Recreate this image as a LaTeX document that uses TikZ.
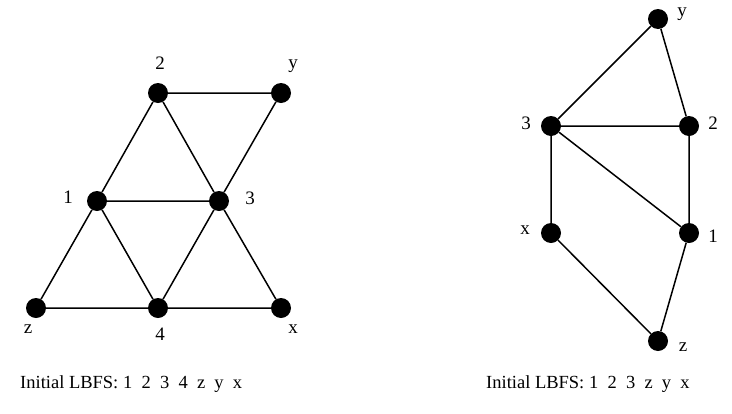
\documentclass[tikz,border=0pt]{standalone}
\usepackage{fontspec}
\setmainfont{Liberation Serif}
\begin{document}
\begin{tikzpicture}[x=1pt,y=-1pt,
  vtx/.style={circle,fill=black,minimum size=20pt,inner sep=0pt},
  lbl/.style={inner sep=0pt,font=\fontsize{19}{22}\selectfont},
  captxt/.style={inner sep=0pt,anchor=base west,font=\fontsize{18.5}{22}\selectfont},
  edge/.style={line width=1.5pt}]
\useasboundingbox (0,0) rectangle (732,413);
% left graph
\node[vtx] (L2) at (158,93) {};
\node[vtx] (Ly) at (281,93) {};
\node[vtx] (L1) at (97,201) {};
\node[vtx] (L3) at (219,201) {};
\node[vtx] (Lz) at (36,308) {};
\node[vtx] (L4) at (158,308) {};
\node[vtx] (Lx) at (281,308) {};
\draw[edge] (L2)--(Ly) (L2)--(L1) (L2)--(L3) (Ly)--(L3) (L1)--(L3)
  (L1)--(Lz) (L1)--(L4) (L3)--(L4) (L3)--(Lx) (Lz)--(L4) (L4)--(Lx);
\node[lbl] (tL2) at (160,63) {2};
\node[lbl] (tLy) at (293,66) {y};
\node[lbl] (tL1) at (68,197) {1};
\node[lbl] (tL3) at (250,198) {3};
\node[lbl] (tLz) at (28,329) {z};
\node[lbl] (tL4) at (160,334) {4};
\node[lbl] (tLx) at (293,329) {x};
% right graph
\node[vtx] (Ry) at (658,19) {};
\node[vtx] (R3) at (551,126) {};
\node[vtx] (R2) at (689,126) {};
\node[vtx] (Rx) at (551,233) {};
\node[vtx] (R1) at (689,233) {};
\node[vtx] (Rz) at (658,341) {};
\draw[edge] (Ry)--(R3) (Ry)--(R2) (R3)--(R2) (R3)--(R1) (R3)--(Rx)
  (R2)--(R1) (Rx)--(Rz) (R1)--(Rz);
\node[lbl] (tRy) at (682,14) {y};
\node[lbl] (tR3) at (526,123) {3};
\node[lbl] (tR2) at (713,123) {2};
\node[lbl] (tRx) at (525,230) {x};
\node[lbl] (tR1) at (713,236) {1};
\node[lbl] (tRz) at (683,347) {z};
% captions
\node[captxt] (c1) at (20,388) {Initial LBFS: 1\ \ 2\ \ 3\ \ 4\ \ z\ \ y\ \ x};
\node[captxt] (c2) at (486,388) {Initial LBFS: 1\ \ 2\ \ 3\ \ z\ \ y\ \ x};
\end{tikzpicture}
\end{document}
